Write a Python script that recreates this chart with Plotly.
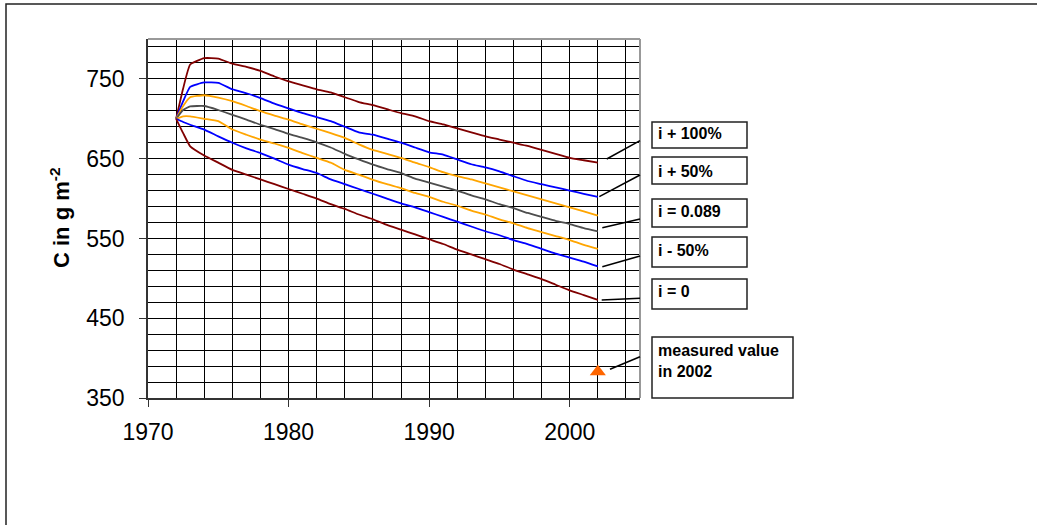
import plotly.graph_objects as go

years = [1972, 1972.5, 1973, 1974, 1975, 1976, 1977, 1978, 1979, 1980, 1981,
         1982, 1983, 1984, 1985, 1986, 1987, 1988, 1989, 1990, 1991, 1992,
         1993, 1994, 1995, 1996, 1997, 1998, 1999, 2000, 2001, 2002]

i_plus_100 = [700, 738, 768, 776, 775.5, 769, 765, 760, 753, 747, 742, 737, 733, 727, 721, 717,
              712, 707, 703, 697, 693, 688, 683, 678, 674, 670, 666, 661, 656, 651, 648, 645]
i_plus_50 = [700, 722, 740, 745.5, 745, 737, 732, 726, 719, 713, 707, 702, 697, 690, 683, 680,
             675, 670, 664, 658, 655, 649, 643, 639, 634, 628, 622, 618, 614, 610, 606, 602]
i_plus_25 = [700, 716, 727, 729.5, 726.5, 722, 716, 709.5, 704, 699, 693, 687.5, 682, 676, 668, 661,
             656, 651, 645, 639.5, 633, 628, 624, 619, 614, 609, 604, 599, 594, 589, 584, 578.5]
i_base = [700, 711, 715.5, 716, 711, 705, 699, 692.5, 687, 681, 676, 670.5, 664, 656, 649, 642.5,
          637, 632, 625, 620, 615, 610, 604, 599, 593, 588, 582, 577, 572, 568, 563, 559]
i_minus_25 = [700, 703, 703, 700, 697, 686.5, 680, 674, 669, 663.5, 657, 651, 645, 636, 630, 623.5,
              618, 613, 607, 602, 596, 591, 585, 580, 574, 569, 563, 558, 553, 548, 542, 537]
i_minus_50 = [700, 696, 692.5, 686.5, 678, 670, 663, 657, 650, 642.5, 637, 632, 624, 618, 612, 606,
              600, 594, 589, 583, 577, 571, 565, 559, 554, 548, 543, 537, 531, 526, 521, 515]
i_zero = [700, 682, 665.5, 654, 645, 636, 630, 624, 618, 612, 606, 600, 593, 587, 580, 574,
          567, 561, 555, 549, 543, 536, 530, 524, 518, 511, 505, 499, 492, 485, 479, 473]

measured_year = [2002]
measured_value = [383]

labels = ["i + 100%", "i + 50%", "i = 0.089", "i - 50%", "i = 0", "measured value<br>in 2002"]

W, H = 1037, 525
L, R, T, B = 148, 640, 39, 398  # plot area in pixels


def px(x):
    return (x - L) / (R - L)


def py(y):
    return (B - y) / (B - T)


fig = go.Figure()
series = [
    (i_plus_100, "#800000"),
    (i_plus_50, "#0000FF"),
    (i_plus_25, "#FFA500"),
    (i_base, "#4D4D4D"),
    (i_minus_25, "#FFA500"),
    (i_minus_50, "#0000FF"),
    (i_zero, "#800000"),
]
for vals, col in series:
    fig.add_trace(go.Scatter(x=years, y=vals, mode="lines",
                             line=dict(color=col, width=1.8, shape="spline", smoothing=0.4),
                             hoverinfo="skip"))
fig.add_trace(go.Scatter(x=measured_year, y=measured_value, mode="markers",
                         marker=dict(symbol="triangle-up", size=14, color="#FF6600")))

grid_col = "#000000"
fig.update_xaxes(range=[1970, 2005], tick0=1970, dtick=10, showgrid=True, gridcolor=grid_col,
                 gridwidth=1, zeroline=False, showline=True, linecolor="#333333", linewidth=1.5,
                 ticks="outside", ticklen=7, tickcolor="#333333", ticklabelstandoff=6,
                 tickfont=dict(family="Liberation Sans, Arial", size=23, color="#000"),
                 minor=dict(dtick=2, tick0=1970, showgrid=True, gridcolor=grid_col, gridwidth=1,
                            ticks=""))
fig.update_yaxes(range=[350, 800], tick0=350, dtick=100, showgrid=True, gridcolor=grid_col,
                 gridwidth=1, zeroline=False, showline=True, linecolor="#333333", linewidth=1.5,
                 ticks="outside", ticklen=7, tickcolor="#333333", ticklabelstandoff=10,
                 tickfont=dict(family="Liberation Sans, Arial", size=23, color="#000"),
                 minor=dict(dtick=20, tick0=350, showgrid=True, gridcolor=grid_col, gridwidth=1,
                            ticks=""))

shapes = []
# top & right frame lines (gray)
shapes.append(dict(type="line", xref="paper", yref="paper", x0=0, x1=1, y0=1, y1=1,
                   line=dict(color="#999999", width=2)))
shapes.append(dict(type="line", xref="paper", yref="paper", x0=1, x1=1, y0=0, y1=1,
                   line=dict(color="#999999", width=2)))
# outer chart border
shapes.append(dict(type="rect", xref="paper", yref="paper", x0=px(6), x1=px(1200),
                   y0=py(4), y1=py(700), line=dict(color="#222222", width=1.5)))

boxes = [(652, 747, 122, 148), (652, 747, 157, 184), (652, 747, 199, 227),
         (652, 747, 237, 267), (652, 747, 279, 309), (652, 793, 337, 398)]
for x0, x1, y0, y1 in boxes:
    shapes.append(dict(type="rect", xref="paper", yref="paper", x0=px(x0), x1=px(x1),
                       y0=py(y0), y1=py(y1), fillcolor="white",
                       line=dict(color="#222222", width=1.5)))

leaders = [((606.7, 159), (640, 140.7)), ((599.3, 196.7), (640, 175)),
           ((602.3, 227.7), (640, 219)), ((602.3, 266.7), (640, 256)),
           ((601.7, 300), (640, 298.3)), ((610, 369.3), (640, 356.7))]
for (ax, ay), (bx, by) in leaders:
    shapes.append(dict(type="line", xref="paper", yref="paper", x0=px(ax), y0=py(ay),
                       x1=px(bx), y1=py(by), line=dict(color="#000000", width=1.5)))

annotations = []
text_y = [133.5, 172, 211, 250, 291, 360.5]
for lab, ty in zip(labels, text_y):
    annotations.append(dict(xref="paper", yref="paper", x=px(656), y=py(ty), text="<b>" + lab + "</b>",
                            showarrow=False, xanchor="left", yanchor="middle", align="left",
                            font=dict(family="Liberation Sans, Arial", size=16, color="#000")))
annotations.append(dict(xref="paper", yref="paper", x=px(60), y=py(218), text="<b>C in g m<sup>-2</sup></b>",
                        showarrow=False, textangle=-90, xanchor="center", yanchor="middle",
                        font=dict(family="Liberation Sans, Arial", size=22, color="#000")))

fig.update_layout(width=W, height=H, margin=dict(l=L, r=W - R, t=T, b=H - B),
                  paper_bgcolor="white", plot_bgcolor="white", showlegend=False,
                  shapes=shapes, annotations=annotations)

fig.write_html("out.html")
